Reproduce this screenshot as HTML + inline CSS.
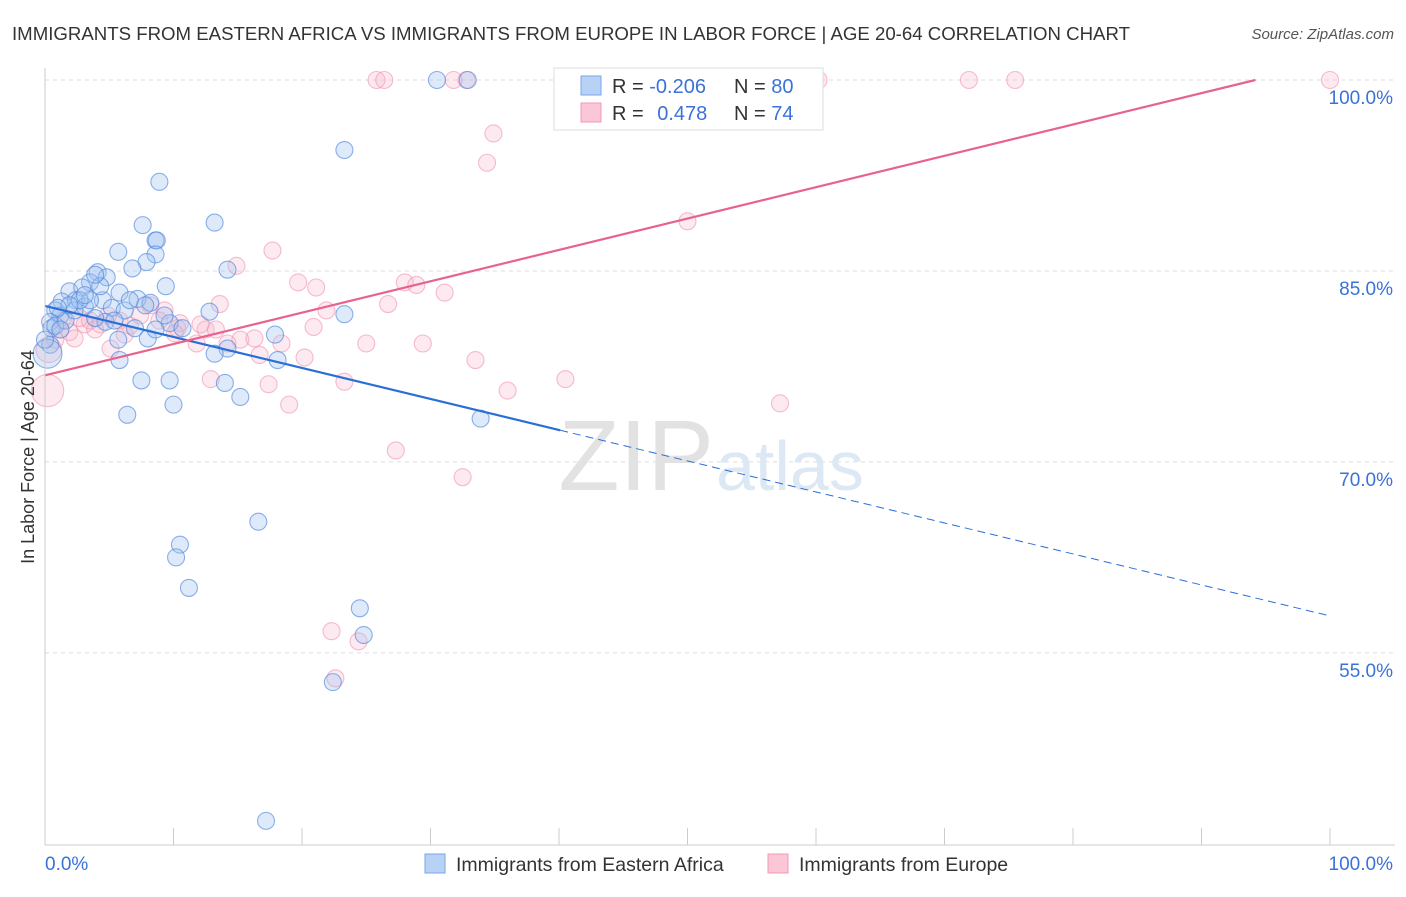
<!DOCTYPE html>
<html><head><meta charset="utf-8"><style>
body{margin:0;background:#fff;font-family:"Liberation Sans",sans-serif}
svg text{font-family:"Liberation Sans",sans-serif}
</style></head><body>
<svg id="chart" width="1406" height="892" viewBox="0 0 1406 892" xmlns="http://www.w3.org/2000/svg">
<text x="12" y="40" font-size="18" fill="#333" textLength="1118" lengthAdjust="spacingAndGlyphs">IMMIGRANTS FROM EASTERN AFRICA VS IMMIGRANTS FROM EUROPE IN LABOR FORCE | AGE 20-64 CORRELATION CHART</text>
<text x="1394" y="39" font-size="15" fill="#555" font-style="italic" text-anchor="end">Source: ZipAtlas.com</text>
<g id="grid"></g>
<text x="714" y="490" font-size="100" fill="#e2e2e2" font-family="Liberation Serif" text-anchor="end">ZIP</text>
<text x="716" y="490" font-size="70" fill="#dde8f5">atlas</text>
<g id="marks"></g>
<g id="axes"></g>
<text transform="translate(34,457) rotate(-90)" font-size="18" fill="#333" text-anchor="middle">In Labor Force | Age 20-64</text>
<g>
<rect x="554" y="68" width="269" height="62" fill="#fff" stroke="#ddd"/>
<rect x="581" y="76" width="20" height="19" fill="#b7d2f5" stroke="#7aa6e8"/>
<rect x="581" y="103" width="20" height="19" fill="#fbc6d6" stroke="#f09ab5"/>
<text x="612" y="93" font-size="20" fill="#333">R = <tspan fill="#3a72d8">-0.206</tspan></text>
<text x="734" y="93" font-size="20" fill="#333">N = <tspan fill="#3a72d8">80</tspan></text>
<text x="612" y="120" font-size="20" fill="#333">R = <tspan fill="#3a72d8" dx="8">0.478</tspan></text>
<text x="734" y="120" font-size="20" fill="#333">N = <tspan fill="#3a72d8">74</tspan></text>
</g>
<g>
<rect x="425" y="854" width="20" height="19" fill="#b7d2f5" stroke="#7aa6e8"/>
<text x="456" y="871" font-size="19.5" fill="#333">Immigrants from Eastern Africa</text>
<rect x="768" y="854" width="20" height="19" fill="#fbc6d6" stroke="#f09ab5"/>
<text x="799" y="871" font-size="19.5" fill="#333">Immigrants from Europe</text>
</g>
</svg>
<script>
const blueX=[30.5,32.9,23.3,8.9,13.2,7.6,8.6,8.7,5.7,8.6,7.9,6.8,14.2,4.1,4.8,9.4,3.5,1.9,2.9,5.8,4.5,7.2,8.2,5.2,1.3,2.4,3.1,12.8,23.3,0.8,1.2,0.4,0.5,4.7,7.0,8.0,5.7,9.7,10.7,14.2,13.2,17.9,18.1,5.8,9.7,7.5,14.0,15.2,10.0,6.4,33.9,16.6,10.5,10.2,11.2,24.5,24.8,22.4,17.2,0.4,0.2,0.8,1.6,2.3,3.5,4.3,2.7,3.9,6.2,9.3,1.2,0.0,1.9,5.4,6.6,3.1,8.6,7.8,1.0,3.9];
const blueY=[100,100,94.5,92.0,88.8,88.6,87.4,87.4,86.5,86.3,85.7,85.2,85.1,84.9,84.5,83.8,84.1,83.4,83.7,83.3,82.7,82.8,82.5,82.1,82.6,82.7,82.2,81.8,81.6,81.9,81.5,81.0,80.5,81.0,80.5,79.7,79.6,80.9,80.5,78.9,78.5,80.0,78.0,78.0,76.4,76.4,76.2,75.1,74.5,73.7,73.4,65.3,63.5,62.5,60.1,58.5,56.4,52.7,41.8,79.2,78.5,80.7,81.1,81.9,82.7,83.8,82.7,81.3,81.9,81.5,80.4,79.6,82.3,81.1,82.7,83.1,80.4,82.3,82.1,84.7];
const blueSize=[1,1,1,1,1,1,1,1,1,1,1,1,1,1,1,1,1,1,1,1,1,1,1,1,1,1,1,1,1,1,1,1,1,1,1,1,1,1,1,1,1,1,1,1,1,1,1,1,1,1,1,1,1,1,1,1,1,1,1,1,1.7,1,1,1,1,1,1,1,1,1,1,1,1,1,1,1,1,1,1,1];
const pinkX=[25.8,26.4,31.8,32.8,60.2,71.9,75.5,100,34.9,34.4,50.0,14.9,17.7,19.7,21.1,28.0,28.9,31.1,21.9,26.7,13.6,9.3,8.2,10.5,12.5,10.3,12.1,15.2,16.3,18.4,20.9,14.2,13.3,16.7,20.2,25.0,29.4,33.5,23.3,17.4,19.0,12.9,36.0,40.5,57.2,27.3,32.5,22.3,24.4,22.6,0.2,0.3,1.2,1.9,2.3,3.1,3.5,4.3,5.1,5.8,6.6,7.4,8.9,1.3,2.7,3.9,10.1,11.8,4.9,6.2,0.8];
const pinkY=[100,100,100,100,100,100,100,100,95.8,93.5,88.9,85.4,86.6,84.1,83.7,84.1,83.9,83.3,81.9,82.4,82.4,81.9,82.3,80.9,80.4,80.5,80.8,79.6,79.7,79.3,80.6,79.3,80.4,78.4,78.2,79.3,79.3,78.0,76.3,76.1,74.5,76.5,75.6,76.5,74.6,70.9,68.8,56.7,55.9,53.0,75.6,78.8,80.4,80.2,79.7,80.8,81.1,80.8,78.9,81.1,80.7,81.5,81.1,81.1,81.3,80.4,80.1,79.3,81.5,80.0,79.6];
const pinkSize=[1,1,1,1,1,1,1,1,1,1,1,1,1,1,1,1,1,1,1,1,1,1,1,1,1,1,1,1,1,1,1,1,1,1,1,1,1,1,1,1,1,1,1,1,1,1,1,1,1,1,1.9,1.5,1,1,1,1,1,1,1,1,1,1,1,1,1,1,1,1,1,1,1];
const blueTrend=[82.25,-0.2435]; // intercept, slope
const pinkTrend=[76.8,0.2463];
const yTicks=[100,85,70,55];
const xTickVals=[0,10,20,30,40,50,60,70,80,90,100];

const NS='http://www.w3.org/2000/svg';
const X0=45,X1=1330,Y100=80,PPY=12.73;
const sx=v=>X0+(X1-X0)*v/100;
const sy=v=>Y100+(100-v)*PPY;
function mk(tag,attrs,parent){const e=document.createElementNS(NS,tag);for(const k in attrs)e.setAttribute(k,attrs[k]);parent.appendChild(e);return e;}
const grid=document.getElementById('grid'),marks=document.getElementById('marks'),axes=document.getElementById('axes');
yTicks.forEach(t=>{
  const l=mk('line',{x1:X0,x2:1395,y1:sy(t),y2:sy(t),stroke:'#ddd','stroke-dasharray':'4,4'},grid);
  
  
  const tx=mk('text',{x:1393,y:sy(t)+24,'font-size':19,fill:'#3a72d8','text-anchor':'end'},axes);
  tx.textContent=t.toFixed(1)+'%';
  
  
});
const ax=mk('line',{x1:X0,x2:1395,y1:845,y2:845,stroke:'#ccc'},axes);


const ay=mk('line',{x1:X0,x2:X0,y1:68,y2:845,stroke:'#ccc'},axes);


xTickVals.forEach(t=>{
  const l=mk('line',{x1:sx(t),x2:sx(t),y1:828,y2:845,stroke:'#ccc'},axes);
  
  
});
const xl0=mk('text',{x:45,y:870,'font-size':19,fill:'#3a72d8'},axes);xl0.textContent='0.0%';


const xl1=mk('text',{x:1393,y:870,'font-size':19,fill:'#3a72d8','text-anchor':'end'},axes);xl1.textContent='100.0%';



function pts(xs,ys,sz,fill,stroke,name){
  xs.forEach((x,i)=>{
    const c=mk('circle',{cx:sx(x),cy:sy(ys[i]),r:8.5*sz[i],fill:fill,stroke:stroke,'stroke-width':1.1},marks);
    
    
  });
}
pts(pinkX,pinkY,pinkSize,'rgba(248,180,200,0.28)','rgba(240,145,175,0.6)','europe-point');
pts(blueX,blueY,blueSize,'rgba(160,196,240,0.35)','rgba(80,135,220,0.65)','eastern-africa-point');

const bx=40.1;
const b1=mk('line',{x1:sx(0),y1:sy(blueTrend[0]),x2:sx(bx),y2:sy(blueTrend[0]+blueTrend[1]*bx),stroke:'#2a6fd6','stroke-width':2.2},marks);


const b2=mk('line',{x1:sx(bx),y1:sy(blueTrend[0]+blueTrend[1]*bx),x2:sx(100),y2:sy(blueTrend[0]+blueTrend[1]*100),stroke:'#2a6fd6','stroke-width':1,'stroke-dasharray':'8,5'},marks);


const px=(100-pinkTrend[0])/pinkTrend[1];
const p1=mk('line',{x1:sx(0),y1:sy(pinkTrend[0]),x2:sx(px),y2:sy(100),stroke:'#e8628e','stroke-width':2.2},marks);


</script>
</body></html>
